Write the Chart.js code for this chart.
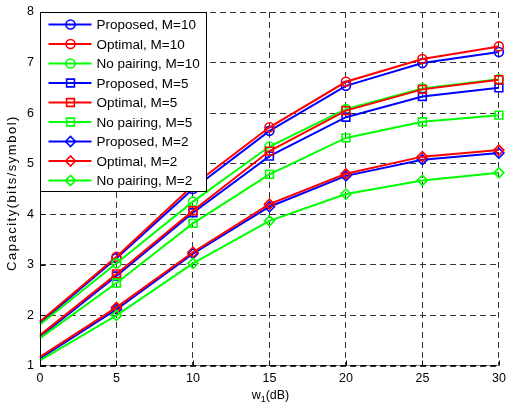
<!DOCTYPE html>
<html>
<head>
<meta charset="utf-8">
<script src="https://cdn.jsdelivr.net/npm/chart.js@4/dist/chart.umd.min.js"></script>
<style>
    html, body { margin: 0; padding: 0; background: #fff; }
    #capacityChart { display: block; }
</style>
</head>
<body>
<canvas id="capacityChart" width="506" height="403"></canvas>
<script>
// w1 values (dB)
var snr = [0, 5, 10, 15, 20, 25, 30];

// capacity values (bits/symbol)
var proposedM10 = [1.85, 3.13, 4.50, 5.65, 6.54, 6.99, 7.21];
var optimalM10  = [1.88, 3.16, 4.57, 5.72, 6.62, 7.07, 7.32];
var noPairM10   = [1.82, 3.03, 4.25, 5.34, 6.08, 6.49, 6.67];
var proposedM5  = [1.58, 2.78, 4.03, 5.15, 5.92, 6.33, 6.50];
var optimalM5   = [1.61, 2.82, 4.07, 5.25, 6.05, 6.47, 6.66];
var noPairM5    = [1.55, 2.64, 3.82, 4.79, 5.51, 5.83, 5.96];
var proposedM2  = [1.15, 2.12, 3.22, 4.15, 4.76, 5.08, 5.21];
var optimalM2   = [1.18, 2.16, 3.25, 4.20, 4.80, 5.14, 5.27];
var noPairM2    = [1.11, 2.00, 3.03, 3.87, 4.40, 4.67, 4.82];

var xTicks = [0, 5, 10, 15, 20, 25, 30];
var yTicks = [1, 2, 3, 4, 5, 6, 7, 8];

var FONT = '"Liberation Sans", Arial, sans-serif';

document.addEventListener('DOMContentLoaded', function() {
    var blue = '#0000ff', red = '#ff0000', green = '#00ff00';

    function makeSeries(label, values, color, marker, size) {
        return {
            label: label,
            data: values.map(function(v, i) { return { x: snr[i], y: v }; }),
            borderColor: color,
            borderWidth: 2,
            pointStyle: marker,
            // no marker at w1 = 0
            pointRadius: values.map(function(v, i) { return i === 0 ? 0 : size; }),
            pointBorderColor: color,
            pointBackgroundColor: 'rgba(0,0,0,0)',
            pointBorderWidth: 1.6,
            tension: 0,
            clip: false
        };
    }

    var series = [
        makeSeries('Proposed, M=10', proposedM10, blue, 'circle', 4.5),
        makeSeries('Optimal, M=10', optimalM10, red, 'circle', 4.5),
        makeSeries('No pairing, M=10', noPairM10, green, 'circle', 4.5),
        makeSeries('Proposed, M=5', proposedM5, blue, 'rect', 5.5),
        makeSeries('Optimal, M=5', optimalM5, red, 'rect', 5.5),
        makeSeries('No pairing, M=5', noPairM5, green, 'rect', 5.5),
        makeSeries('Proposed, M=2', proposedM2, blue, 'rectRot', 5),
        makeSeries('Optimal, M=2', optimalM2, red, 'rectRot', 5),
        makeSeries('No pairing, M=2', noPairM2, green, 'rectRot', 5)
    ];
    // later curves on top, like matlab
    series.forEach(function(s, i) { s.order = series.length - i; });

    // left/bottom axis lines, inward ticks, axis titles and the boxed legend
    var matlabAxes = {
        id: 'matlabAxes',
        afterDatasetsDraw: function(chart) {
            var ctx = chart.ctx;
            var a = chart.chartArea;
            var xs = chart.scales.x, ys = chart.scales.y;
            var L = Math.round(a.left) + 0.5, R = Math.round(a.right) - 0.5;
            var T = Math.round(a.top) + 0.5, B = Math.round(a.bottom) - 0.5;

            ctx.save();
            ctx.lineWidth = 1;
            ctx.setLineDash([]);
            // bottom axis: grey line with the dashed grid over it
            ctx.strokeStyle = '#888';
            ctx.beginPath();
            ctx.moveTo(L, B); ctx.lineTo(R, B);
            ctx.stroke();
            ctx.strokeStyle = '#000';
            ctx.setLineDash([6, 4]);
            ctx.beginPath();
            ctx.moveTo(L, B); ctx.lineTo(R, B);
            ctx.stroke();
            ctx.setLineDash([]);
            ctx.beginPath();
            ctx.moveTo(L, T); ctx.lineTo(L, B);
            ctx.stroke();

            ctx.beginPath();
            xTicks.forEach(function(v) {
                var px = Math.round(xs.getPixelForValue(v)) + 0.5;
                ctx.moveTo(px, B); ctx.lineTo(px, B - 5);
            });
            yTicks.forEach(function(v) {
                var py = Math.round(ys.getPixelForValue(v)) + 0.5;
                ctx.moveTo(L, py); ctx.lineTo(L + 5, py);
            });
            ctx.stroke();

            // legend box
            var boxW = 166, boxH = 179;
            ctx.fillStyle = '#fff';
            ctx.fillRect(L, T, boxW, boxH);
            ctx.strokeRect(L, T, boxW, boxH);
            ctx.font = '13.5px ' + FONT;
            ctx.textBaseline = 'middle';
            ctx.textAlign = 'left';
            series.forEach(function(s, i) {
                var y = T + 12 + i * 19.5;
                ctx.strokeStyle = s.borderColor;
                ctx.lineWidth = 2;
                ctx.beginPath();
                ctx.moveTo(L + 8, y); ctx.lineTo(L + 51, y);
                ctx.stroke();
                ctx.lineWidth = 1.6;
                ctx.fillStyle = 'rgba(0,0,0,0)';
                Chart.helpers.drawPoint(ctx, {
                    pointStyle: s.pointStyle,
                    radius: s.pointRadius[1],
                    rotation: 0,
                    borderWidth: 1.6
                }, L + 30, y);
                ctx.fillStyle = '#000';
                ctx.fillText(s.label, L + 56, y + 1);
            });

            // y title
            ctx.fillStyle = '#000';
            ctx.font = '13px ' + FONT;
            ctx.textAlign = 'center';
            ctx.textBaseline = 'middle';
            ctx.translate(12, 193);
            ctx.rotate(-Math.PI / 2);
            if ('letterSpacing' in ctx) ctx.letterSpacing = '1.5px';
            ctx.fillText('Capacity(bits/symbol)', 0, 0);
            ctx.restore();

            // x title: w with subscript 1
            ctx.save();
            ctx.fillStyle = '#000';
            ctx.textBaseline = 'alphabetic';
            ctx.textAlign = 'left';
            var cx = (a.left + a.right) / 2;
            ctx.font = '12.5px ' + FONT;
            var wW = ctx.measureText('w').width;
            var dW = ctx.measureText('(dB)').width;
            ctx.font = '9px ' + FONT;
            var sW = ctx.measureText('1').width;
            var x0 = cx - (wW + sW + dW) / 2 + 1;
            ctx.font = '12.5px ' + FONT;
            ctx.fillText('w', x0, 399);
            ctx.font = '9px ' + FONT;
            ctx.fillText('1', x0 + wW, 402);
            ctx.font = '12.5px ' + FONT;
            ctx.fillText('(dB)', x0 + wW + sW, 399);
            ctx.restore();
        }
    };

    var ctx = document.getElementById('capacityChart').getContext('2d');
    var capacityChart = new Chart(ctx, {
        type: 'line',
        data: { datasets: series },
        options: {
            responsive: false,
            animation: false,
            events: [],
            layout: { padding: { top: 12, left: 0, right: 0, bottom: 0 } },
            plugins: {
                legend: { display: false },
                tooltip: { enabled: false }
            },
            scales: {
                x: {
                    type: 'linear',
                    min: 0,
                    max: 30,
                    afterBuildTicks: function(scale) {
                        scale.ticks = xTicks.map(function(v) { return { value: v }; });
                    },
                    afterFit: function(scale) {
                        scale.height = 37;
                        scale.paddingLeft = 0;
                        scale.paddingRight = 7;
                    },
                    grid: { color: '#333', lineWidth: 1, drawTicks: false },
                    border: { display: false, dash: [6, 4] },
                    ticks: {
                        padding: 5,
                        color: '#000',
                        maxRotation: 0,
                        font: { family: FONT, size: 12.5 }
                    }
                },
                y: {
                    type: 'linear',
                    min: 1,
                    max: 8,
                    afterBuildTicks: function(scale) {
                        scale.ticks = yTicks.map(function(v) { return { value: v }; });
                    },
                    afterFit: function(scale) {
                        scale.width = 40;
                        scale.paddingTop = 0;
                        scale.paddingBottom = 0;
                    },
                    grid: { color: '#333', lineWidth: 1, drawTicks: false },
                    border: { display: false, dash: [6, 4] },
                    ticks: {
                        padding: 6,
                        color: '#000',
                        font: { family: FONT, size: 12.5 }
                    }
                }
            }
        },
        plugins: [matlabAxes]
    });
});
</script>
</body>
</html>
